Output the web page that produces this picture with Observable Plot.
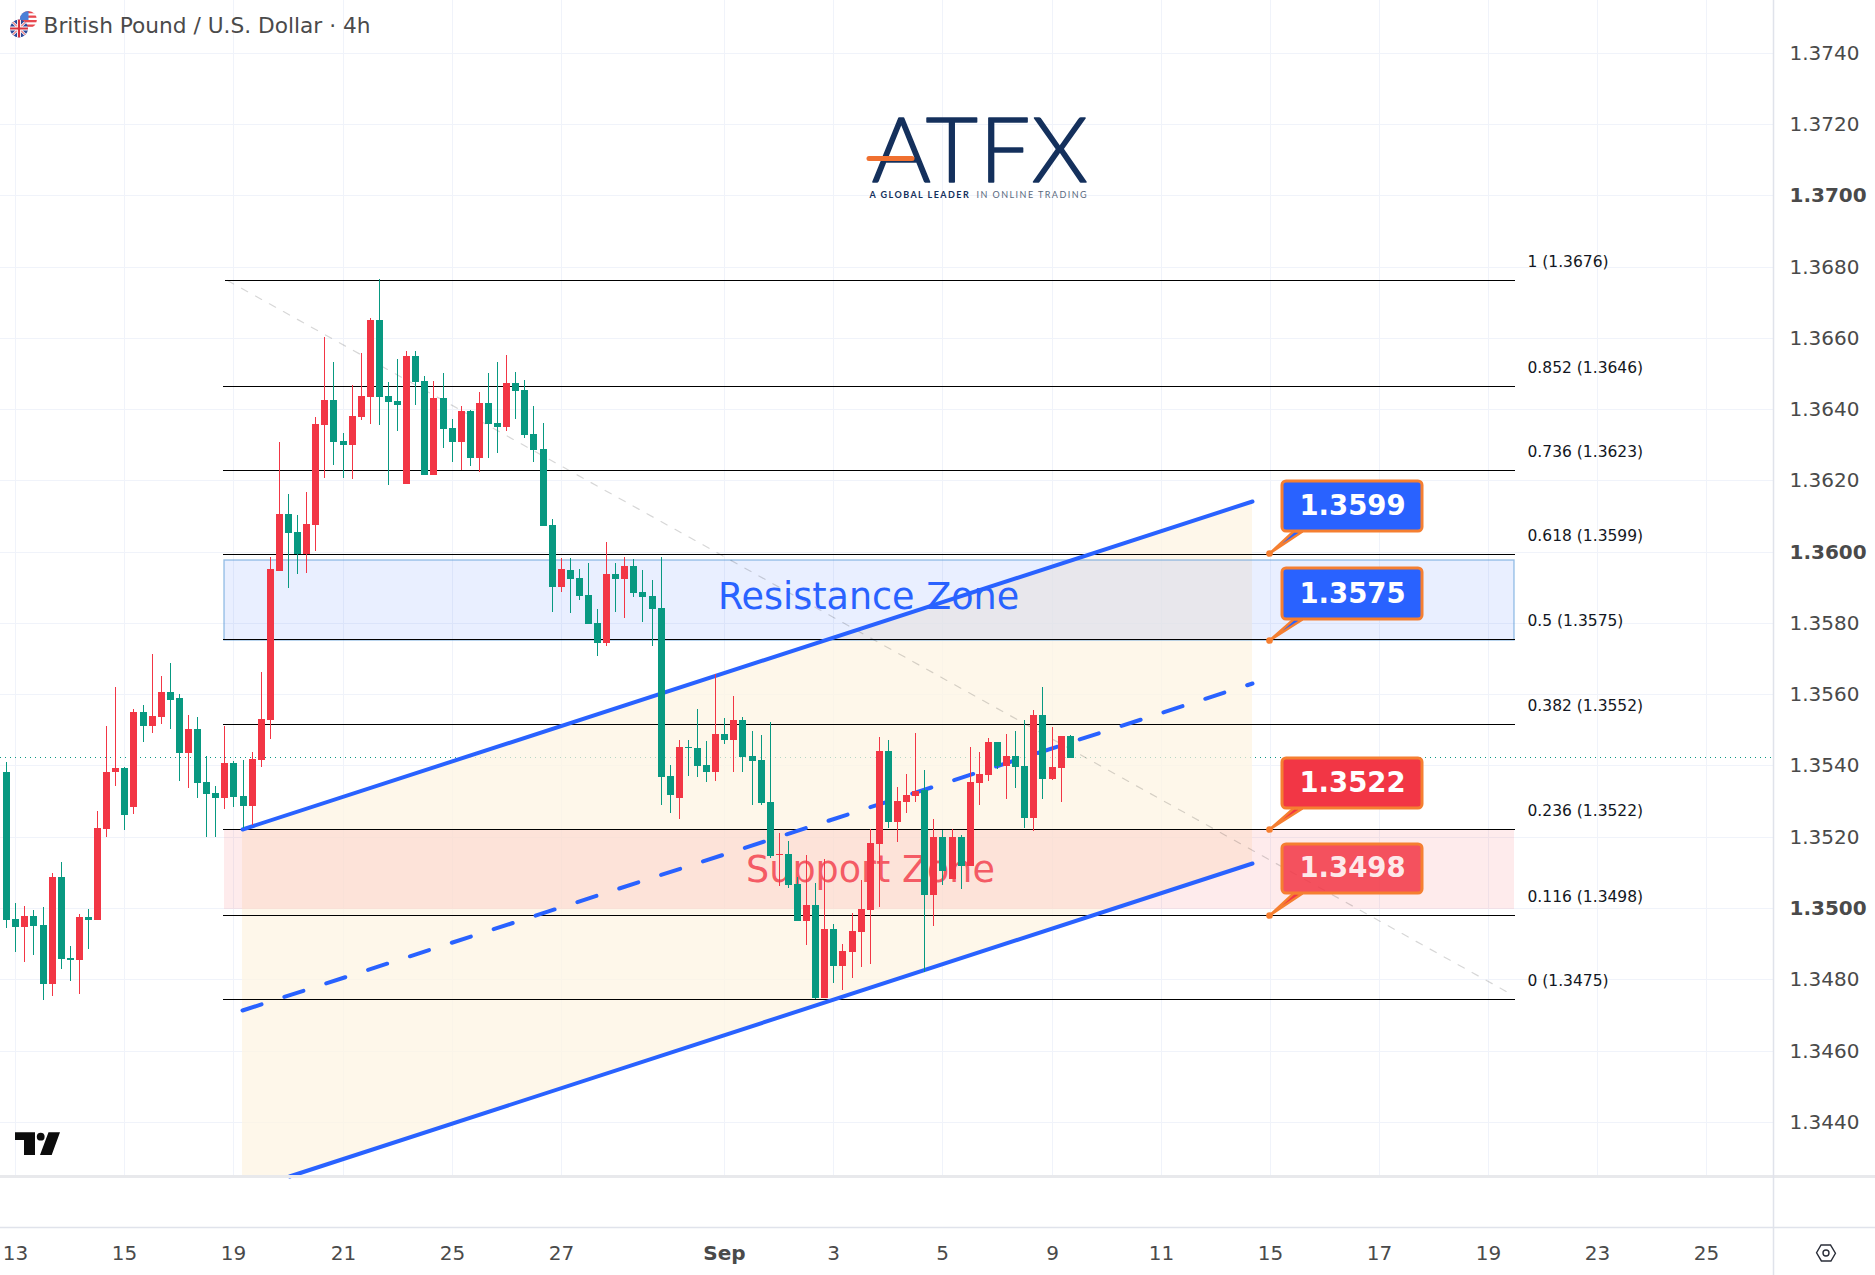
<!DOCTYPE html>
<html>
<head>
<meta charset="utf-8">
<script src="https://cdn.jsdelivr.net/npm/d3@7"></script>
<script src="https://cdn.jsdelivr.net/npm/@observablehq/plot@0.6"></script>
<style>
html,body{margin:0;padding:0;background:#fff;overflow:hidden}
svg{display:block}
</style>
</head>
<body>
<div id="chart"></div>
<script>
const opens = [1.35381,1.34969,1.34948,1.34978,1.34953,1.34788,1.35088,1.3486,1.34853,1.34975,
1.34967,1.35223,1.35381,1.35394,1.35284,1.35551,1.3551,1.35537,1.35607,1.35588,
1.35436,1.35503,1.35354,1.35324,1.35309,1.35408,1.35315,1.35287,1.35416,1.35529,
1.35947,1.36105,1.36054,1.35993,1.36074,1.36355,1.36425,1.3631,1.36299,1.36377,
1.36433,1.3665,1.36436,1.36422,1.36189,1.36549,1.36478,1.36214,1.36431,1.36346,
1.36307,1.36394,1.36262,1.36417,1.3636,1.36349,1.36473,1.36453,1.36329,1.36287,
1.36074,1.35902,1.35949,1.35927,1.35879,1.35801,1.35744,1.35938,1.35924,1.35961,
1.35888,1.35876,1.35843,1.35371,1.35309,1.35452,1.35449,1.35402,1.35382,1.35489,
1.35472,1.35528,1.35427,1.35416,1.35298,1.35148,1.35152,1.35068,1.34964,1.35009,
1.34748,1.34941,1.34837,1.34877,1.34933,1.34995,1.3518,1.35441,1.35242,1.35298,
1.35315,1.35332,1.35037,1.352,1.35082,1.352,1.35118,1.35352,1.35374,1.35467,
1.35399,1.35427,1.35399,1.35253,1.35543,1.35363,1.35394,1.35484];
const closes = [1.34967,1.34948,1.34978,1.34951,1.34788,1.35088,1.34858,1.34853,1.34975,1.34967,
1.35225,1.35383,1.35394,1.35262,1.35551,1.3551,1.3554,1.35607,1.35585,1.35436,
1.35503,1.35352,1.35321,1.35309,1.35408,1.35312,1.35287,1.35419,1.35531,1.3595,
1.36105,1.36051,1.35993,1.36077,1.36358,1.36425,1.36307,1.36299,1.3638,1.36436,
1.3665,1.36433,1.36419,1.36411,1.36549,1.36476,1.36214,1.36431,1.36343,1.36307,
1.36394,1.36262,1.36417,1.36358,1.36349,1.36473,1.3645,1.36327,1.36285,1.36071,
1.35902,1.3595,1.35924,1.35876,1.35798,1.35744,1.35938,1.35924,1.35961,1.35885,
1.35874,1.3584,1.35368,1.35317,1.35452,1.35449,1.35399,1.35382,1.35489,1.35472,
1.35528,1.35424,1.35413,1.35295,1.35146,1.35151,1.35065,1.34964,1.35009,1.34748,
1.34941,1.34837,1.3488,1.34936,1.34998,1.35183,1.35441,1.35242,1.35301,1.35318,
1.35329,1.35037,1.352,1.35104,1.352,1.35118,1.35354,1.35377,1.35467,1.35399,
1.35427,1.35396,1.35253,1.35543,1.35363,1.35396,1.35484,1.35422];
const highs = [1.35411,1.35014,1.35006,1.34995,1.35003,1.35098,1.3513,1.34894,1.34984,1.34998,
1.35273,1.35512,1.35621,1.35396,1.35559,1.35571,1.35714,1.35652,1.35689,1.35601,
1.35543,1.35537,1.35427,1.35343,1.35512,1.35413,1.35416,1.35439,1.35661,1.35985,
1.36307,1.36161,1.36102,1.36167,1.36377,1.36602,1.36532,1.36332,1.36467,1.36557,
1.36655,1.36764,1.36476,1.3654,1.36563,1.36563,1.36492,1.36478,1.36501,1.36372,
1.36408,1.36397,1.36447,1.36501,1.36532,1.36551,1.36504,1.36481,1.36408,1.3636,
1.36091,1.35981,1.35983,1.35952,1.35969,1.3584,1.36028,1.35969,1.35986,1.3598,
1.35949,1.35921,1.35986,1.35402,1.35472,1.35472,1.35559,1.35469,1.35657,1.35534,
1.35595,1.35536,1.35497,1.35486,1.35523,1.35211,1.35189,1.35087,1.35149,1.35071,
1.35138,1.34955,1.34899,1.34986,1.35079,1.35222,1.35481,1.35472,1.3534,1.35377,
1.35492,1.35388,1.3525,1.35219,1.35222,1.35205,1.35453,1.35439,1.35478,1.35467,
1.35489,1.35498,1.35528,1.35557,1.35621,1.35509,1.35484,1.35486];
const lows = [1.34945,1.34878,1.3485,1.34867,1.34743,1.34754,1.3483,1.34796,1.3476,1.34886,
1.34967,1.35198,1.35343,1.35218,1.35265,1.35467,1.35492,1.35517,1.35503,1.35357,
1.35338,1.35309,1.35198,1.35198,1.35279,1.35284,1.35224,1.35234,1.35397,1.35475,
1.35947,1.35897,1.35936,1.35939,1.36001,1.36206,1.36242,1.36206,1.36203,1.36369,
1.36358,1.36355,1.36186,1.36338,1.36189,1.36411,1.36214,1.36214,1.3629,1.36251,
1.36228,1.3624,1.36223,1.36262,1.36276,1.36338,1.36372,1.36318,1.36251,1.36071,
1.35832,1.35888,1.35829,1.35865,1.35798,1.35708,1.35736,1.35831,1.35815,1.35874,
1.35803,1.35736,1.35289,1.35267,1.3525,1.35371,1.35368,1.35354,1.35357,1.35461,
1.35382,1.35382,1.35289,1.35289,1.35141,1.35062,1.35057,1.34964,1.34896,1.34745,
1.34748,1.3479,1.3477,1.34804,1.34835,1.34843,1.35003,1.35225,1.35186,1.35267,
1.35298,1.34821,1.3495,1.35065,1.35082,1.35054,1.35118,1.3529,1.35357,1.35391,
1.35307,1.35337,1.35225,1.35217,1.35307,1.3536,1.35298,1.35422];

const priceTicks = [1.344,1.346,1.348,1.352,1.354,1.356,1.358,1.362,1.364,1.366,1.368,1.372,1.374];
const boldPriceTicks = [1.35,1.36,1.37];
const dayTickBars = [1,13,25,37,49,61,91,103,115,127,139,151,163,175,187];
const dayTickLabels = ["13","15","19","21","25","27","3","5","9","11","15","17","19","23","25"];
const monthTickBars = [79];
const monthTickLabels = ["Sep"];

const fibPrices = [1.36763,1.36466,1.3623,1.35994,1.35756,1.35516,1.35221,1.3498,1.34744];
const fibLabels = ["1 (1.3676)","0.852 (1.3646)","0.736 (1.3623)","0.618 (1.3599)","0.5 (1.3575)","0.382 (1.3552)","0.236 (1.3522)","0.116 (1.3498)","0 (1.3475)"];
const lastPrice = 1.35425;

const channelX = [25.94,31.15,137.05];
const channelUpper = [1.35222,1.35265,1.36141];
const channelLower = [1.34247,1.34247,1.35125];
const midlineX = [25.94,137.05];
const midlineY = [1.34713,1.35632];
const diagonalX = [24.29,165.8];
const diagonalY = [1.36763,1.34755];

const calloutLabels = ["1.3599","1.3575","1.3522","1.3498"];
const calloutAnchors = [1.35997,1.35751,1.35222,1.34981];
const calloutTops = [1.36197,1.35953,1.35422,1.35181];
const calloutBottoms = [1.36057,1.35812,1.35281,1.35042];
const calloutFills = ["#2962ff","#2962ff","#f23645","#f23645"];
const calloutOpacity = [1,1,1,0.85];

const PANE_BOTTOM = 1.34248, TOP = 1.37548, BOTTOM = 1.34105, SVG_BOTTOM = 1.3397;
const XMIN = -0.682, XMAX = 194.37, XEND = 205.6;
const FONT = "DejaVu Sans";
const UP = "#f23645", DOWN = "#089981";
const GRID = "#f0f3fa", BORDER = "#e0e3eb";
const ORANGE = "#f57f31";

const bars = opens.map((o,i)=>({i,o,h:highs[i],l:lows[i],c:closes[i]}));
const isUp = d=>d.c>=d.o, isDown = d=>d.c<d.o;
const channel = channelX.map((x,k)=>({x,y1:channelLower[k],y2:channelUpper[k]}));
const fib = fibPrices.map((p,k)=>({p,label:fibLabels[k]}));
const pts = (xs,ys)=>xs.map((x,k)=>({x,y:ys[k]}));

const decor = () => {
  const g = d3.create("svg:g");
  const defs = g.append("defs");
  defs.append("clipPath").attr("id","usc").append("circle").attr("cx",28.3).attr("cy",19.7).attr("r",8.6);
  defs.append("clipPath").attr("id","ukc").append("circle").attr("cx",19).attr("cy",28.5).attr("r",9);
  const us = g.append("g").attr("clip-path","url(#usc)");
  us.append("rect").attr("x",19).attr("y",11).attr("width",19).attr("height",18).attr("fill","#fff");
  [11,15.5,20,24.5].forEach(y=>us.append("rect").attr("x",19).attr("y",y).attr("width",19).attr("height",2.3).attr("fill","#e8484f"));
  us.append("rect").attr("x",19).attr("y",11).attr("width",9.5).attr("height",9).attr("fill","#4a7fd8");
  const uk = g.append("g").attr("clip-path","url(#ukc)");
  uk.append("rect").attr("x",9).attr("y",19).attr("width",20).attr("height",19).attr("fill","#2b4a9b");
  uk.append("path").attr("d","M10,19.5L28,37.5M28,19.5L10,37.5").attr("stroke","#fff").attr("stroke-width",2.6);
  uk.append("path").attr("d","M10,19.5L28,37.5M28,19.5L10,37.5").attr("stroke","#d8323e").attr("stroke-width",1);
  uk.append("path").attr("d","M19,19V38M9,28.5H29").attr("stroke","#fff").attr("stroke-width",4);
  uk.append("path").attr("d","M19,19V38M9,28.5H29").attr("stroke","#d8323e").attr("stroke-width",2.2);
  g.append("path").attr("fill","#0c0c0c").attr("d","M15,1132.3H35V1155H24V1140H15Z M48.5,1132.3H60L51.7,1155H40Z");
  g.append("circle").attr("cx",40.7).attr("cy",1136.7).attr("r",3.9).attr("fill","#0c0c0c");
  g.append("path").attr("d","M1826,1243.8L1834.3,1248.5V1257.5L1826,1262.2L1817.7,1257.5V1248.5Z").attr("transform","rotate(30 1826 1253)").attr("fill","none").attr("stroke","#2a2e39").attr("stroke-width",1.4);
  g.append("circle").attr("cx",1826).attr("cy",1253).attr("r",3).attr("fill","none").attr("stroke","#2a2e39").attr("stroke-width",1.4);
  return g.node();
};

const calloutMarks = calloutLabels.flatMap((label,k)=>{
  const fill = calloutFills[k], a = calloutOpacity[k];
  const top = calloutTops[k], bot = calloutBottoms[k], an = calloutAnchors[k];
  return [
    Plot.rect([{}],{x1:140.3,x2:155.8,y1:bot,y2:top,fill,fillOpacity:a,stroke:ORANGE,strokeWidth:3,rx:4,inset:0}),
    Plot.line(pts([138.95,141.6,142.5,138.95],[an,bot,bot,an]),{x:"x",y:"y",fill,stroke:ORANGE,strokeWidth:2.4,strokeLinejoin:"miter"}),
    Plot.dot([{x:138.95,y:an}],{x:"x",y:"y",r:2.6,fill:ORANGE,stroke:ORANGE}),
    Plot.text([label],{x:148.05,y:(top+bot)/2,text:d=>d,fill:"#fff",fillOpacity:a===1?1:0.9,fontSize:27.5,fontWeight:700,fontFamily:FONT})
  ];
});

const chart = Plot.plot({
  width:1875,height:1275,
  marginTop:0,marginLeft:0,marginRight:102,marginBottom:48,
  style:{background:"#fff",fontFamily:FONT,overflow:"visible"},
  x:{domain:[XMIN,XMAX],round:true},
  y:{domain:[BOTTOM,TOP],round:true},
  marks:[
    // grid
    Plot.ruleY(priceTicks.concat(boldPriceTicks),{stroke:GRID,x1:XMIN,x2:XMAX}),
    Plot.ruleX(dayTickBars.concat(monthTickBars),{stroke:GRID,y1:PANE_BOTTOM,y2:TOP}),
    // price-last line
    Plot.ruleY([lastPrice],{stroke:DOWN,strokeDasharray:"1 4",x1:XMIN,x2:XMAX}),
    // channel fill
    Plot.areaY(channel,{x:"x",y1:"y1",y2:"y2",fill:"#fdf3e1",fillOpacity:0.7}),
    // zones
    Plot.rect([{}],{x1:23.98,x2:165.9,y1:1.35752,y2:1.35978,fill:"#2962ff",fillOpacity:0.1,stroke:"#5c9bd6",strokeOpacity:0.6,strokeWidth:1.4,inset:0}),
    Plot.rect([{}],{x1:23.98,x2:165.9,y1:1.34996,y2:1.35221,fill:"#f23645",fillOpacity:0.1,inset:0}),
    // fib levels
    Plot.ruleY(fib,{y:"p",x1:d=>d.p===fibPrices[0]?24.1:23.88,x2:165.99,stroke:"#000",strokeWidth:1}),
    Plot.text(fib,{x:167.3,y:"p",dy:-18,text:"label",textAnchor:"start",fontSize:15.5,fill:"#131722",fontFamily:FONT}),
    // diagonal
    Plot.line(pts(diagonalX,diagonalY),{x:"x",y:"y",stroke:"#000",strokeOpacity:0.16,strokeWidth:1.2,strokeDasharray:"7 9"}),
    // channel lines
    Plot.line(pts([channelX[0],channelX[2]],[channelUpper[0],channelUpper[2]]),{x:"x",y:"y",stroke:"#2962ff",strokeWidth:4}),
    Plot.line(pts([channelX[1],channelX[2]],[channelLower[1],channelLower[2]]),{x:"x",y:"y",stroke:"#2962ff",strokeWidth:4}),
    Plot.line(pts(midlineX,midlineY),{x:"x",y:"y",stroke:"#2962ff",strokeWidth:4,strokeDasharray:"20 24"}),
    // zone labels
    Plot.text(["Resistance Zone"],{x:94.8,y:1.35874,text:d=>d,fill:"#2962ff",fontSize:36.5,fontFamily:FONT}),
    Plot.text(["Support Zone"],{x:95,y:1.35108,text:d=>d,fill:"#f23645",fillOpacity:0.8,fontSize:36.5,fontFamily:FONT}),
    // candles
    Plot.ruleX(bars,{filter:isUp,x:"i",y1:"l",y2:"h",stroke:UP,strokeWidth:1}),
    Plot.ruleX(bars,{filter:isDown,x:"i",y1:"l",y2:"h",stroke:DOWN,strokeWidth:1}),
    Plot.ruleX(bars,{filter:isUp,x:"i",y1:"o",y2:"c",stroke:UP,strokeWidth:7}),
    Plot.ruleX(bars,{filter:isDown,x:"i",y1:"o",y2:"c",stroke:DOWN,strokeWidth:7}),
    // callouts
    ...calloutMarks,
    // ATFX logo
    Plot.text(["ATFX"],{x:107.1,y:1.3704,lineAnchor:"bottom",text:d=>d,fill:"#14305c",stroke:"#14305c",strokeWidth:1.6,strokeLinejoin:"round",fontSize:90,fontWeight:300,fontFamily:"Lato"}),
    Plot.ruleY([1.37104],{x1:94.9,x2:99.7,stroke:"#f07030",strokeWidth:5,strokeLinecap:"round"}),
    Plot.text(["A GLOBAL LEADER"],{x:94.9,y:1.37001,text:d=>d,textAnchor:"start",fill:"#14305c",fontSize:9,fontWeight:700,fontFamily:"Lato"}),
    Plot.text(["IN ONLINE TRADING"],{x:106.7,y:1.37001,text:d=>d,textAnchor:"start",fill:"#5a6a80",fontSize:9,fontFamily:"Lato"}),
    // title
    Plot.text(["British Pound / U.S. Dollar \u00b7 4h"],{x:4.05,y:1.37476,text:d=>d,textAnchor:"start",fill:"#4a4a4a",fontSize:21.7,fontFamily:FONT}),
    // pane borders
    Plot.ruleY([PANE_BOTTOM],{x1:XMIN,x2:XEND,stroke:"#e8e9ec",strokeWidth:3}),
    Plot.ruleY([BOTTOM],{x1:XMIN,x2:XEND,stroke:BORDER,strokeWidth:1.5}),
    Plot.ruleX([XMAX],{y1:SVG_BOTTOM,y2:TOP,stroke:BORDER,strokeWidth:1.5}),
    // axes
    Plot.axisY(priceTicks,{anchor:"right",tickSize:0,tickPadding:16,tickFormat:d3.format(".4f"),label:null,fontSize:20,fill:"#4a4a4a",fontFamily:FONT}),
    Plot.axisY(boldPriceTicks,{anchor:"right",tickSize:0,tickPadding:16,tickFormat:d3.format(".4f"),label:null,fontSize:20,fontWeight:700,fill:"#4a4a4a",fontFamily:FONT}),
    Plot.axisX(dayTickBars,{anchor:"bottom",tickSize:0,tickPadding:18,tickFormat:d=>dayTickLabels[dayTickBars.indexOf(d)],label:null,fontSize:20,fill:"#4a4a4a",fontFamily:FONT}),
    Plot.axisX(monthTickBars,{anchor:"bottom",tickSize:0,tickPadding:18,tickFormat:d=>monthTickLabels[monthTickBars.indexOf(d)],label:null,fontSize:20,fontWeight:700,fill:"#4a4a4a",fontFamily:FONT}),
    decor
  ]
});
const dsel = d3.select(chart).selectAll("text");
dsel.filter(function(){return /GLOBAL|ONLINE/.test(this.textContent);}).style("letter-spacing","1.45px");
dsel.filter(function(){return this.textContent==="ATFX";}).style("letter-spacing","1.5px");
document.getElementById("chart").appendChild(chart);
</script>
</body>
</html>
